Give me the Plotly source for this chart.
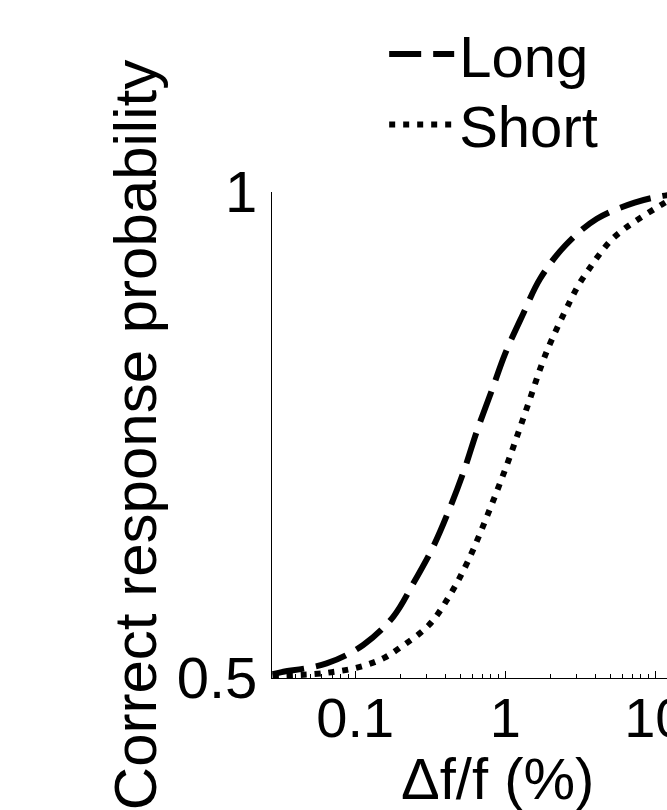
import plotly.graph_objects as go

# Data (x: delta f / f in %, y: correct response probability)
long_x = [0.0281, 0.0323, 0.0644, 0.113, 0.179, 0.245, 0.333, 0.430, 0.535, 0.650,
          0.814, 1.0, 1.31, 1.71, 2.51, 4.08, 7.28, 11.2, 16.0]
long_y = [0.504, 0.506, 0.515, 0.534, 0.563, 0.598, 0.636, 0.676, 0.715, 0.755,
          0.796, 0.834, 0.874, 0.911, 0.945, 0.9725, 0.989, 0.996, 0.999]

short_x = [0.0281, 0.0533, 0.0695, 0.092, 0.122, 0.157, 0.198, 0.310, 0.430, 0.563,
           0.786, 1.069, 1.415, 1.89, 2.71, 3.10, 3.61, 4.25, 5.09, 6.34,
           8.07, 10.5, 13.0, 16.0]
short_y = [0.502, 0.504, 0.506, 0.509, 0.514, 0.521, 0.531, 0.5545, 0.586, 0.620,
           0.673, 0.727, 0.781, 0.836, 0.888, 0.905, 0.9205, 0.936, 0.9506, 0.963,
           0.974, 0.985, 0.993, 0.997]

x_tickvals = [0.1, 1, 10]
x_ticktext = ["0.1", "1", "10"]
y_tickvals = [0.5, 1]
y_ticktext = ["0.5", "1"]

FONT = "Liberation Sans, Arial, Helvetica, sans-serif"

fig = go.Figure()
fig.add_trace(go.Scatter(x=long_x, y=long_y, mode="lines", name="Long", legend="legend",
                         line=dict(color="black", width=6, dash="32px,12px", shape="spline")))
fig.add_trace(go.Scatter(x=short_x, y=short_y, mode="lines", name="Short", legend="legend2",
                         line=dict(color="black", width=6, dash="6px,8px", shape="spline")))

minor_vals = [m * 10 ** e for e in range(-2, 2) for m in range(2, 10)]

legend_common = dict(xanchor="left", yanchor="top", font=dict(size=58),
                     bgcolor="rgba(0,0,0,0)", itemwidth=65)

fig.update_layout(
    width=667, height=810,
    margin=dict(l=272, r=0, t=192, b=132, autoexpand=False),
    paper_bgcolor="white", plot_bgcolor="white",
    font=dict(family=FONT, color="black", size=58),
    showlegend=True,
    legend=dict(x=0.284, y=1.375, **legend_common),
    legend2=dict(x=0.284, y=1.230, **legend_common),
    xaxis=dict(type="log", range=[-1.555, 1.078],
               tickvals=x_tickvals, ticktext=x_ticktext,
               ticks="inside", ticklen=7, tickwidth=1, tickcolor="black",
               minor=dict(tickvals=minor_vals, ticks="inside", ticklen=4, tickcolor="black", tickwidth=1),
               showline=True, linecolor="black", linewidth=1.2,
               showgrid=False, zeroline=False,
               tickfont=dict(size=56), ticklabelstandoff=-9,
               ticklabeloverflow="allow",
               automargin=False),
    yaxis=dict(range=[0.5, 1],
               tickvals=y_tickvals, ticktext=y_ticktext,
               ticks="inside", ticklen=5, tickwidth=1, tickcolor="black",
               showline=True, linecolor="black", linewidth=1.2,
               showgrid=False, zeroline=False,
               tickfont=dict(size=58), ticklabelstandoff=2,
               title=dict(text="Correct response probability", font=dict(size=60), standoff=0),
               automargin=False),
    annotations=[dict(text="\u0394f/f (%)", xref="paper", yref="paper",
                      x=0.57, y=-0.135, xanchor="center", yanchor="top",
                      showarrow=False, font=dict(size=58))],
)

fig.write_html("out.html")
